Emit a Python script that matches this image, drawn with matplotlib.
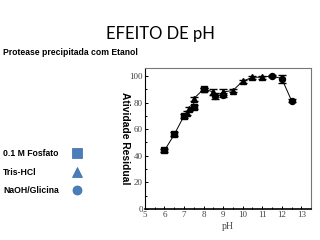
import matplotlib
matplotlib.use("Agg")
from matplotlib import pyplot as plt
from matplotlib.ticker import MultipleLocator

# data
ph_fosfato = [6, 6.5, 7, 7.5, 8]
at_fosfato = [44, 56, 70, 77, 90]
err_fosfato = [1, 1.5, 1.5, 1.5, 1]

ph_tris = [7.15, 7.25, 7.5, 8, 8.5, 9, 9.5, 10, 10.5, 11]
at_tris = [72, 75, 83, 90, 88, 88, 89, 96, 99, 99]
err_tris = [1.5, 1.5, 1.5, 1, 2, 2, 1, 1, 1, 1]

ph_glic = [8.6, 9, 11.5, 12, 12.5]
at_glic = [85, 86, 100, 98, 81.5]
err_glic = [2, 1.5, 1, 3, 1]

legend_labels = ["0.1 M Fosfato", "Tris-HCl", "NaOH/Glicina"]
legend_markers = ["s", "^", "o"]

fig = plt.figure(figsize=(3.2, 2.4), dpi=100)
fig.patch.set_facecolor("white")

fig.text(0.5, 0.86, "EFEITO DE pH", ha="center", va="center",
         fontsize=12, family="Lato")
fig.text(0.01, 0.78, "Protease precipitada com Etanol", ha="left", va="center",
         fontsize=6.2, fontweight="bold", family="Liberation Sans")

# slide legend
ys = [0.36, 0.282, 0.205]
for lab, mk, yy in zip(legend_labels, legend_markers, ys):
    fig.text(0.01, yy, lab, ha="left", va="center", fontsize=6.2,
             fontweight="bold", family="Liberation Sans")
lax = fig.add_axes([0, 0, 1, 1], facecolor="none")
lax.set_xlim(0, 1)
lax.set_ylim(0, 1)
lax.axis("off")
for mk, yy in zip(legend_markers, ys):
    lax.plot(0.242, yy + 0.003, marker=mk, markersize=6.5, color="#4a7ebb",
             markeredgecolor="#3a6aa5", markeredgewidth=0.5)

ax = fig.add_axes([0.453, 0.129, 0.519, 0.588])

# one connecting line through all points in pH order
pts = sorted(zip(ph_fosfato + ph_tris + ph_glic, at_fosfato + at_tris + at_glic))
ax.plot([p[0] for p in pts], [p[1] for p in pts], color="black", linewidth=0.7)

for x, y, e, mk in [(ph_fosfato, at_fosfato, err_fosfato, "s"),
                    (ph_tris, at_tris, err_tris, "^"),
                    (ph_glic, at_glic, err_glic, "o")]:
    ax.errorbar(x, y, yerr=e, fmt=mk, color="black", markersize=4.3,
                elinewidth=1, capsize=3, capthick=1)

ax.set_xlim(5, 13.5)
ax.set_ylim(0, 106)
ax.xaxis.set_major_locator(MultipleLocator(1))
ax.xaxis.set_minor_locator(MultipleLocator(0.5))
ax.yaxis.set_major_locator(MultipleLocator(20))
ax.yaxis.set_minor_locator(MultipleLocator(10))
ax.tick_params(which="both", direction="in", labelsize=6.5, colors="black",
               labelcolor="#444444", length=2.5, width=0.7, pad=1.5)
ax.tick_params(which="minor", length=1.5)
for lab in ax.get_xticklabels() + ax.get_yticklabels():
    lab.set_family("Liberation Serif")
ax.spines["top"].set_color("#777777")
ax.spines["right"].set_color("#777777")
ax.spines["bottom"].set_linewidth(1.2)
ax.spines["left"].set_linewidth(0.8)
ax.set_xlabel("pH", family="Liberation Serif", fontsize=7, color="#444444",
              labelpad=2)
ax.set_ylabel("Atividade Residual", fontsize=7.4, fontweight="bold",
              rotation=270, labelpad=7, family="Liberation Sans")

fig.savefig("out.png", dpi=100)
